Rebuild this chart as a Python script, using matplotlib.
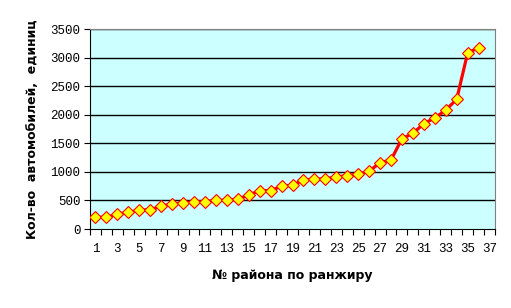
import matplotlib.pyplot as plt
import numpy as np

# rank of district and number of cars
districts = list(range(1, 37))
cars = [205, 205, 258, 293, 328, 339, 398, 439, 456, 474,
        474, 503, 503, 520, 596, 672, 672, 750, 765, 857,
        874, 874, 914, 931, 960, 1012, 1160, 1207, 1581, 1672,
        1845, 1943, 2081, 2270, 3081, 3172]
x_labels = list(range(1, 38, 2))
y_ticks = list(range(0, 3501, 500))


def main():
    fig = plt.figure(figsize=(5.11, 3.08), dpi=100)
    ax = fig.add_axes([90 / 511, 1 - 229 / 308, 405 / 511, 200 / 308])
    ax.set_facecolor("#CCFFFF")

    for y in y_ticks[1:]:
        ax.axhline(y, color="black", lw=1.0, zorder=1)

    ax.plot(
        districts,
        cars,
        color="#FF0000",
        lw=2.3,
        marker="D",
        markersize=6,
        markerfacecolor="#FFFF00",
        markeredgecolor="#FF0000",
        markeredgewidth=0.8,
        zorder=3,
    )

    ax.set_xlim(0.5, 37.5)
    ax.set_ylim(0, 3500)

    ax.set_xticks(x_labels)
    ax.set_xticks(np.arange(0.5, 38, 1), minor=True)
    ax.tick_params(axis="x", which="major", length=0, pad=10)
    ax.tick_params(axis="x", which="minor", length=4, width=0.8)
    ax.set_yticks(y_ticks)
    ax.tick_params(axis="y", length=4, width=0.8, pad=3)

    for lbl in ax.get_xticklabels() + ax.get_yticklabels():
        lbl.set_fontfamily("Liberation Mono")
        lbl.set_fontsize(9)

    for side in ["top", "right"]:
        ax.spines[side].set_color("#808080")
    for side in ["left", "bottom"]:
        ax.spines[side].set_color("black")

    ax.set_xlabel("№ района по ранжиру", fontsize=9, fontweight="bold", labelpad=10)
    ax.set_ylabel("Кол-во  автомобилей,  единиц", fontsize=9, fontweight="bold", labelpad=8)

    fig.savefig("out.png", dpi=100)


if __name__ == "__main__":
    main()
